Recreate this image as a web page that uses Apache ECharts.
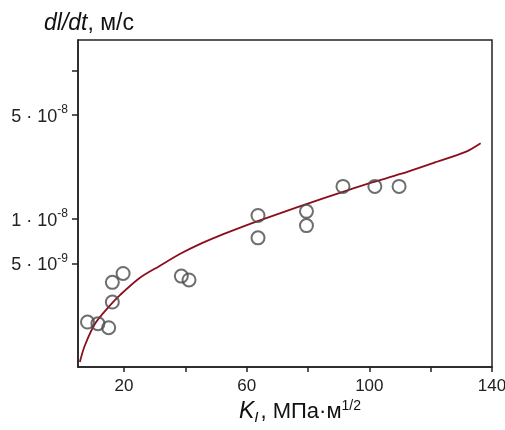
<!DOCTYPE html>
<html>
<head>
<meta charset="utf-8">
<style>
  html, body { margin: 0; padding: 0; background: #fff; }
  #chart { width: 505px; height: 430px; }
</style>
<script src="https://cdn.jsdelivr.net/npm/echarts@6/dist/echarts.min.js"></script>
</head>
<body>
<div id="chart"></div>
<script>
// экспериментальные точки: K_I (МПа·м^1/2) и скорость роста трещины dl/dt (м/с)
const pointK = [8.1, 11.5, 15.0, 16.2, 16.2, 19.7, 38.7, 41.2, 63.7, 63.7, 79.5, 79.5, 91.4, 101.8, 109.7];
const pointRate = [2.01e-9, 1.96e-9, 1.84e-9, 2.74e-9, 3.72e-9, 4.27e-9, 4.10e-9, 3.86e-9,
                   1.05e-8, 7.42e-9, 1.12e-8, 8.98e-9, 1.65e-8, 1.65e-8, 1.65e-8];

// расчётная кривая
const curveK = [5.6, 7.2, 10.5, 15.3, 18.6, 25.1, 31.6, 38.2, 44.7, 51.2, 57.7, 64.3,
                77.3, 93.6, 101.2, 110.2, 120.8, 131.6, 136.3];
const curveRate = [1.08e-9, 1.39e-9, 1.95e-9, 2.58e-9, 3.04e-9, 3.98e-9, 4.80e-9, 5.78e-9, 6.74e-9,
                   7.69e-9, 8.67e-9, 9.74e-9, 1.21e-8, 1.57e-8, 1.76e-8, 2.00e-8, 2.37e-8, 2.83e-8, 3.22e-8];

// деления осей
const xTicks = [20, 40, 60, 80, 100, 120, 140];
const xLabels = [20, 60, 100, 140];
const yTicks = [5e-9, 1e-8, 5e-8, 1e-7];
const yLabels = [5e-9, 1e-8, 5e-8];

function sciLabel(v) {
  const exp = Math.floor(Math.log10(v) + 1e-9);
  const mant = Math.round(v / Math.pow(10, exp));
  return '{m|' + mant + ' · 10}{e|' + exp + '}';
}

const chart = echarts.init(document.getElementById('chart'));
const font = 'Liberation Sans, Arial, sans-serif';
const axisColor = '#222';

chart.setOption({
  animation: false,
  textStyle: { fontFamily: font },
  grid: {
    left: 78, right: 13, top: 40, bottom: 63,
    outerBoundsMode: 'none',
    containLabel: false,
    show: true, borderColor: axisColor, borderWidth: 1.5
  },
  title: [
    {
      left: 39, top: 7,
      text: '{i|dl/dt}{r|, м/с}',
      textStyle: {
        fontWeight: 'normal',
        rich: {
          i: { fontSize: 23, fontStyle: 'italic', fontWeight: 'normal', color: '#111', fontFamily: font },
          r: { fontSize: 23, fontWeight: 'normal', color: '#111', fontFamily: font }
        }
      }
    },
    {
      left: 234, top: 394,
      text: '{k|K}{s|I}{r|, МПа·м}{p|1/2}',
      textStyle: {
        fontWeight: 'normal',
        rich: {
          k: { fontSize: 23, fontStyle: 'italic', fontWeight: 'normal', lineHeight: 26, color: '#111', fontFamily: font },
          s: { fontSize: 15, fontStyle: 'italic', fontWeight: 'normal', lineHeight: 14, verticalAlign: 'bottom', color: '#111', fontFamily: font, padding: [0, 2, 0, 0] },
          r: { fontSize: 22, fontWeight: 'normal', lineHeight: 26, color: '#111', fontFamily: font },
          p: { fontSize: 14, fontWeight: 'normal', lineHeight: 14, verticalAlign: 'top', color: '#111', fontFamily: font }
        }
      }
    }
  ],
  xAxis: {
    type: 'value',
    min: 5, max: 140,
    splitLine: { show: false },
    axisLine: { lineStyle: { color: axisColor, width: 1.5 } },
    axisTick: { customValues: xTicks, length: 5, lineStyle: { color: axisColor, width: 1.5 } },
    axisLabel: { customValues: xLabels, fontSize: 17, color: '#222', margin: 11 }
  },
  yAxis: {
    type: 'log',
    logBase: 10,
    min: 1e-9, max: 1.6e-7,
    splitLine: { show: false },
    minorTick: { show: false },
    axisLine: { lineStyle: { color: axisColor, width: 1.5 } },
    axisTick: { customValues: yTicks, length: 6, lineStyle: { color: axisColor, width: 1.5 } },
    axisLabel: {
      customValues: yLabels,
      margin: 10,
      formatter: sciLabel,
      rich: {
        m: { fontSize: 18, lineHeight: 22, verticalAlign: 'bottom', color: '#222', fontFamily: font },
        e: { fontSize: 12, lineHeight: 12, verticalAlign: 'top', color: '#222', fontFamily: font }
      }
    }
  },
  series: [
    {
      type: 'line',
      data: curveK.map((k, i) => [k, curveRate[i]]),
      smooth: 0.3,
      showSymbol: false,
      lineStyle: { color: '#8c0e1e', width: 1.8 },
      z: 2
    },
    {
      type: 'scatter',
      data: pointK.map((k, i) => [k, pointRate[i]]),
      symbol: 'circle',
      symbolSize: 13,
      itemStyle: { color: 'rgba(255,255,255,0)', borderColor: '#4a4a4a', borderWidth: 2 },
      z: 3
    }
  ]
});
</script>
</body>
</html>
